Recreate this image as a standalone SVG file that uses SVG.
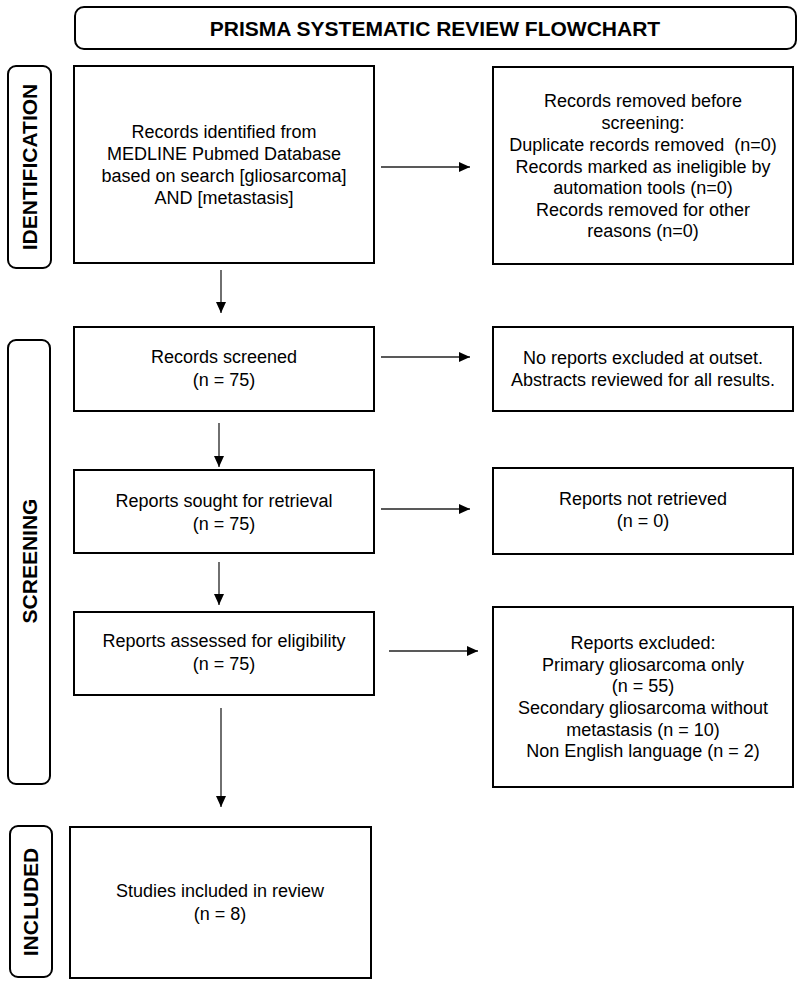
<svg xmlns="http://www.w3.org/2000/svg" width="800" height="984" viewBox="0 0 800 984">
<defs>
<style>
.box{fill:#fff;stroke:#000;stroke-width:2}
.side{fill:#fff;stroke:#000;stroke-width:2}
.t{font-family:"Liberation Sans",Arial,sans-serif;font-size:18px;fill:#000;text-anchor:middle}
.lab{font-family:"Liberation Sans",Arial,sans-serif;font-size:21px;font-weight:bold;fill:#000;text-anchor:middle}
.conn line{stroke:#222;stroke-width:1.3;fill:none}
</style>
<marker id="ah" viewBox="0 0 11 10" refX="11" refY="5" markerWidth="11" markerHeight="10" markerUnits="userSpaceOnUse" orient="auto">
<path d="M0,0 L11,5 L0,10 Z" fill="#000"/>
</marker>
</defs>
<rect width="800" height="984" fill="#fff"/>

<g id="title">
<rect class="box" x="75" y="7" width="721" height="42" rx="9"/>
<text class="lab" x="435" y="36">PRISMA SYSTEMATIC REVIEW FLOWCHART</text>
</g>

<g id="label-identification">
<rect class="side" x="8" y="66" width="43" height="202" rx="8"/>
<text class="lab" transform="translate(37,167) rotate(-90)" x="0" y="0">IDENTIFICATION</text>
</g>
<g id="label-screening">
<rect class="side" x="8" y="340" width="42" height="444" rx="8"/>
<text class="lab" transform="translate(37,561) rotate(-90)" x="0" y="0">SCREENING</text>
</g>
<g id="label-included">
<rect class="side" x="10" y="826" width="42" height="151" rx="8"/>
<text class="lab" transform="translate(38,902) rotate(-90)" x="0" y="0">INCLUDED</text>
</g>

<g id="identified">
<rect class="box" x="74" y="66" width="300" height="197"/>
<text class="t" x="224" y="138">Records identified from</text>
<text class="t" x="224" y="160">MEDLINE Pubmed Database</text>
<text class="t" x="224" y="182">based on search [gliosarcoma]</text>
<text class="t" x="224" y="204">AND [metastasis]</text>
</g>

<g id="removed">
<rect class="box" x="493" y="67" width="300" height="197"/>
<text class="t" x="643" y="107">Records removed before</text>
<text class="t" x="643" y="129">screening:</text>
<text class="t" x="643" y="151" xml:space="preserve">Duplicate records removed  (n=0)</text>
<text class="t" x="643" y="173">Records marked as ineligible by</text>
<text class="t" x="643" y="194">automation tools (n=0)</text>
<text class="t" x="643" y="216">Records removed for other</text>
<text class="t" x="643" y="237">reasons (n=0)</text>
</g>

<g id="screened">
<rect class="box" x="74" y="327" width="300" height="84"/>
<text class="t" x="224" y="363">Records screened</text>
<text class="t" x="224" y="386">(n = 75)</text>
</g>

<g id="no-excluded">
<rect class="box" x="493" y="327" width="300" height="84"/>
<text class="t" x="643" y="364">No reports excluded at outset.</text>
<text class="t" x="643" y="386">Abstracts reviewed for all results.</text>
</g>

<g id="sought">
<rect class="box" x="74" y="470" width="300" height="83"/>
<text class="t" x="224" y="507">Reports sought for retrieval</text>
<text class="t" x="224" y="530">(n = 75)</text>
</g>

<g id="not-retrieved">
<rect class="box" x="493" y="468" width="300" height="86"/>
<text class="t" x="643" y="505">Reports not retrieved</text>
<text class="t" x="643" y="527">(n = 0)</text>
</g>

<g id="assessed">
<rect class="box" x="74" y="612" width="300" height="83"/>
<text class="t" x="224" y="647">Reports assessed for eligibility</text>
<text class="t" x="224" y="670">(n = 75)</text>
</g>

<g id="excluded">
<rect class="box" x="493" y="607" width="300" height="180"/>
<text class="t" x="643" y="649">Reports excluded:</text>
<text class="t" x="643" y="671">Primary gliosarcoma only</text>
<text class="t" x="643" y="692">(n = 55)</text>
<text class="t" x="643" y="714">Secondary gliosarcoma without</text>
<text class="t" x="643" y="736">metastasis (n = 10)</text>
<text class="t" x="643" y="757">Non English language (n = 2)</text>
</g>

<g id="included">
<rect class="box" x="70" y="827" width="301" height="151"/>
<text class="t" x="220" y="897">Studies included in review</text>
<text class="t" x="220" y="920">(n = 8)</text>
</g>

<g id="connectors" class="conn">
<line x1="221" y1="270" x2="221" y2="313" marker-end="url(#ah)"/>
<line x1="219" y1="423" x2="219" y2="467" marker-end="url(#ah)"/>
<line x1="219" y1="562" x2="219" y2="605" marker-end="url(#ah)"/>
<line x1="221" y1="708" x2="221" y2="807" marker-end="url(#ah)"/>
<line x1="381" y1="167" x2="470" y2="167" marker-end="url(#ah)"/>
<line x1="381" y1="357" x2="470" y2="357" marker-end="url(#ah)"/>
<line x1="381" y1="509" x2="470" y2="509" marker-end="url(#ah)"/>
<line x1="389" y1="651" x2="478" y2="651" marker-end="url(#ah)"/>
</g>
</svg>
